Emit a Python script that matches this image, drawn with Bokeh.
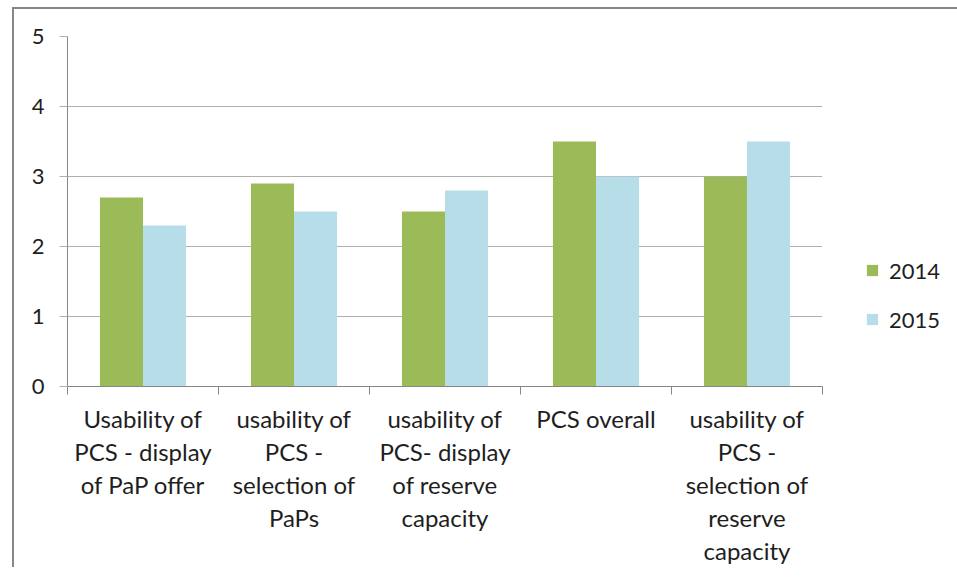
from bokeh.plotting import figure
from bokeh.models import (Range1d, LinearAxis, FixedTicker,
                          Legend, LegendItem, ColumnDataSource)
from bokeh.embed import file_html
from bokeh.resources import INLINE

categories = [
    "Usability of\nPCS - display\nof PaP offer",
    "usability of\nPCS -\nselection of\nPaPs",
    "usability of\nPCS- display\nof reserve\ncapacity",
    "PCS overall",
    "usability of\nPCS -\nselection of\nreserve\ncapacity",
]
values_2014 = [2.7, 2.9, 2.5, 3.5, 3.0]
values_2015 = [2.3, 2.5, 2.8, 3.0, 3.5]
series_names = ["2014", "2015"]
y_ticks = [0, 1, 2, 3, 4, 5]

GREEN = "#9BBB59"
BLUE = "#B7DEE8"
AX = "#868686"
GRID = "#b0b0b0"
TXT = "#1e1e1e"
FONT = "Lato"
FS = "22px"
FS_CAT = "24px"

n = len(categories)
BW = 0.285  # bar width in category units
centers = [i + 0.5 for i in range(n)]
edges = list(range(n + 1))
src = ColumnDataSource(dict(
    center=centers,
    x2014=[c - BW / 2 for c in centers],
    x2015=[c + BW / 2 for c in centers],
    v2014=values_2014, v2015=values_2015))

p = figure(x_range=Range1d(0, n), y_range=Range1d(0, 5),
           frame_width=755, frame_height=350, x_axis_location=None,
           output_backend="svg", toolbar_location=None,
           min_border_left=53, min_border_top=27, min_border_right=128, min_border_bottom=0)
p.margin = (7, 0, 0, 12)
p.styles = {"border-left": "2px solid #878787", "border-top": "2px solid #878787"}
p.outline_line_color = None
p.background_fill_color = "white"
p.border_fill_color = "white"

r1 = p.vbar(x="x2014", top="v2014", width=BW, source=src, fill_color=GREEN, line_color=None)
r2 = p.vbar(x="x2015", top="v2015", width=BW, source=src, fill_color=BLUE, line_color=None)

# y axis
yax = p.yaxis[0]
yax.ticker = FixedTicker(ticks=y_ticks)
yax.axis_line_color = AX
yax.major_tick_line_color = GRID
yax.major_tick_out = 8
yax.major_tick_in = 0
yax.minor_tick_line_color = None
yax.major_label_text_font = FONT
yax.major_label_text_font_size = FS
yax.major_label_text_color = TXT
yax.major_label_standoff = 15
p.ygrid.ticker = FixedTicker(ticks=y_ticks)
p.ygrid.grid_line_color = GRID
p.ygrid.grid_line_width = 1
p.xgrid.visible = False

# category axis: labels at centres, tick marks at category boundaries
cat_axis = LinearAxis(ticker=FixedTicker(ticks=centers, minor_ticks=edges),
                      major_label_overrides={c: lab for c, lab in zip(centers, categories)},
                      axis_line_color=AX,
                      major_tick_line_color=None, major_tick_out=0, major_tick_in=0,
                      minor_tick_line_color=AX, minor_tick_out=8, minor_tick_in=0,
                      major_label_text_font=FONT, major_label_text_font_size=FS_CAT,
                      major_label_text_color=TXT, major_label_standoff=9,
                      major_label_text_line_height=1.14)
p.add_layout(cat_axis, "below")

legend = Legend(items=[LegendItem(label=series_names[0], renderers=[r1]),
                       LegendItem(label=series_names[1], renderers=[r2])],
                location=(43, 52), orientation="vertical",
                glyph_width=14, glyph_height=14, label_standoff=10,
                label_text_font=FONT, label_text_font_size=FS, label_text_color=TXT,
                label_height=30, spacing=19, padding=0, margin=0,
                border_line_color=None, background_fill_alpha=0)
p.add_layout(legend, "right")

open("out.html", "w").write(file_html(p, INLINE))
